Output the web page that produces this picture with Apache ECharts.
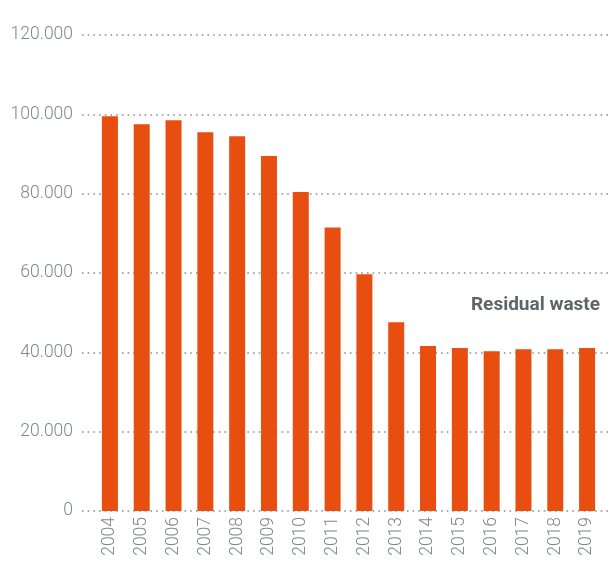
<!DOCTYPE html>
<html>
<head>
<meta charset="utf-8">
<script src="https://cdn.jsdelivr.net/npm/echarts@6/dist/echarts.min.js"></script>
<style>
  html, body { margin: 0; padding: 0; background: #fff; }
  #chart { width: 609px; height: 561px; }
</style>
</head>
<body>
<div id="chart"></div>
<script>
var years = ['2004', '2005', '2006', '2007', '2008', '2009', '2010', '2011',
  '2012', '2013', '2014', '2015', '2016', '2017', '2018', '2019'];
var residualWaste = [99500, 97500, 98500, 95500, 94500, 89500, 80400, 71500,
  59700, 47600, 41600, 41100, 40300, 40800, 40800, 41100];
var yTicks = [0, 20000, 40000, 60000, 80000, 100000, 120000];

var labelFont = 'Roboto, sans-serif';

function dotThousands(v) {
  return String(v).replace(/\B(?=(\d{3})+(?!\d))/g, '.');
}

var myChart = echarts.init(document.getElementById('chart'));
myChart.setOption({
  animation: false,
  grid: [
    // grid 0 only carries the dotted lines and the y labels
    { left: 82, right: 1, top: 35, bottom: 50, outerBoundsMode: 'none' },
    { left: 94, right: 6, top: 35, bottom: 50, outerBoundsMode: 'none' }
  ],
  xAxis: [
    { type: 'value', gridIndex: 0, show: false, min: 0, max: 1 },
    {
      type: 'category',
      gridIndex: 1,
      data: years,
      axisLine: { show: false },
      axisTick: { show: false },
      axisLabel: {
        rotate: 90,
        margin: 6,
        color: '#7f878c',
        fontSize: 17.5,
        fontWeight: 300,
        fontFamily: labelFont
      }
    }
  ],
  yAxis: [
    {
      type: 'value',
      gridIndex: 0,
      min: yTicks[0],
      max: yTicks[yTicks.length - 1],
      interval: 20000,
      axisLine: { show: false },
      axisTick: { show: false },
      axisLabel: {
        margin: 9,
        color: '#7f878c',
        fontSize: 17.5,
        fontWeight: 300,
        fontFamily: labelFont,
        formatter: dotThousands
      },
      splitLine: {
        lineStyle: { color: '#8a8f93', width: 1.6, type: [1.6, 4.1] }
      }
    },
    {
      type: 'value',
      gridIndex: 1,
      min: yTicks[0],
      max: yTicks[yTicks.length - 1],
      interval: 20000,
      show: false,
      splitLine: { show: false }
    }
  ],
  graphic: [
    {
      type: 'text',
      x: 600,
      y: 305,
      style: {
        text: 'Residual waste',
        fill: '#5c666c',
        font: 'bold 19px ' + labelFont,
        align: 'right',
        verticalAlign: 'middle'
      }
    }
  ],
  series: [
    {
      name: 'Residual waste',
      type: 'bar',
      xAxisIndex: 1,
      yAxisIndex: 1,
      barWidth: 16,
      itemStyle: { color: '#e84e10' },
      data: residualWaste
    }
  ]
});
</script>
</body>
</html>
